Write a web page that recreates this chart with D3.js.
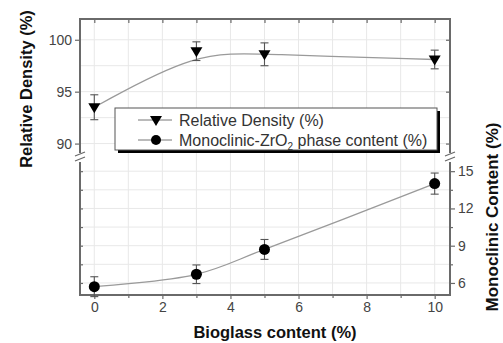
<!DOCTYPE html>
<html>
<head>
<meta charset="utf-8">
<script src="https://cdn.jsdelivr.net/npm/d3@7"></script>
<style>
  html, body { margin: 0; padding: 0; background: #fff; }
  svg { display: block; font-family: "Liberation Sans", Arial, sans-serif; }
</style>
</head>
<body>
<div id="chart"></div>
<script>
// data
const bioglass = [0, 3, 5, 10];
const density = [93.5, 98.9, 98.6, 98.1];
const densityErr = [1.2, 0.9, 1.1, 0.9];
const monoclinic = [5.7, 6.7, 8.7, 14.0];
const monoclinicErr = [0.8, 0.75, 0.8, 0.85];
const xTicks = [0, 2, 4, 6, 8, 10];
const densityTicks = [90, 95, 100];
const monoTicks = [6, 9, 12, 15];
const monoMinor = [7.5, 10.5, 13.5];

const W = 503, H = 343;
const pLeft = 80, pRight = 450, pTop = 19, pBottom = 295;
const breakTop = 155, breakBot = 160;

const svg = d3.select('#chart').append('svg').attr('width', W).attr('height', H);

const x = d3.scaleLinear().domain([-0.42, 10.45]).range([pLeft, pRight]);
const yTop = d3.scaleLinear().domain([88.9, 102]).range([breakTop, pTop]);
const yBot = d3.scaleLinear().domain([5.03, 15.9]).range([pBottom, breakBot]);

const axisColor = '#6a6a6a';
const textColor = '#444';
const gridColor = '#e8e8e8';

// grid
const grid = svg.append('g').attr('stroke', gridColor).attr('stroke-width', 1);
d3.range(0, 11).forEach(v => {
  grid.append('line').attr('x1', x(v)).attr('x2', x(v)).attr('y1', pTop).attr('y2', pBottom);
});
[90, 92.5, 95, 97.5, 100].forEach(v => {
  grid.append('line').attr('x1', pLeft).attr('x2', pRight).attr('y1', yTop(v)).attr('y2', yTop(v));
});
monoTicks.concat(monoMinor).forEach(v => {
  grid.append('line').attr('x1', pLeft).attr('x2', pRight).attr('y1', yBot(v)).attr('y2', yBot(v));
});

// axes
const axisStyle = g => {
  g.select('.domain').remove();
  g.selectAll('line').attr('stroke', axisColor).attr('stroke-width', 1.2);
  g.selectAll('text').attr('fill', textColor).style('font-size', '14px');
};

svg.append('g').attr('transform', `translate(0,${pBottom})`)
  .call(d3.axisBottom(x).tickValues(xTicks).tickSize(4).tickPadding(3))
  .call(axisStyle);
svg.append('g').attr('transform', `translate(0,${pBottom})`)
  .call(d3.axisBottom(x).tickValues([1, 3, 5, 7, 9]).tickSize(3).tickFormat(''))
  .call(axisStyle);
svg.append('g').attr('transform', `translate(0,${pTop})`)
  .call(d3.axisBottom(x).tickValues(d3.range(0, 11)).tickSize(4).tickFormat(''))
  .call(axisStyle);

svg.append('g').attr('transform', `translate(${pLeft},0)`)
  .call(d3.axisLeft(yTop).tickValues(densityTicks).tickSize(5).tickPadding(3))
  .call(axisStyle);
svg.append('g').attr('transform', `translate(${pLeft},0)`)
  .call(d3.axisRight(yBot).tickValues(monoTicks.concat(monoMinor)).tickSize(3).tickFormat(''))
  .call(axisStyle);
svg.append('g').attr('transform', `translate(${pRight},0)`)
  .call(d3.axisLeft(yTop).tickValues(densityTicks).tickSize(4).tickFormat(''))
  .call(axisStyle);
svg.append('g').attr('transform', `translate(${pRight},0)`)
  .call(d3.axisRight(yBot).tickValues(monoTicks).tickSize(5).tickPadding(3))
  .call(axisStyle);
svg.append('g').attr('transform', `translate(${pRight},0)`)
  .call(d3.axisRight(yBot).tickValues(monoMinor).tickSize(3).tickFormat(''))
  .call(axisStyle);

// frame
const frame = svg.append('g').attr('stroke', axisColor).attr('stroke-width', 2).attr('fill', 'none');
frame.append('path').attr('d', `M${pLeft},${breakTop - 2}V${pTop}H${pRight}V${breakTop - 2}`);
frame.append('path').attr('d', `M${pLeft},${breakBot + 2}V${pBottom}H${pRight}V${breakBot + 2}`);

// break marks
const breaks = svg.append('g').attr('stroke', axisColor).attr('stroke-width', 1.2);
[pLeft, pRight].forEach(bx => {
  [breakTop - 1, breakBot - 1].forEach(by => {
    breaks.append('line').attr('x1', bx - 5).attr('y1', by + 2).attr('x2', bx + 5).attr('y2', by - 2);
  });
});

// curves
const densityPts = bioglass.map((d, i) => [d, density[i]]);
const monoPts = bioglass.map((d, i) => [d, monoclinic[i]]);
svg.append('path').datum(densityPts)
  .attr('d', d3.line().x(d => x(d[0])).y(d => yTop(d[1])).curve(d3.curveBasis))
  .attr('fill', 'none').attr('stroke', '#9a9a9a').attr('stroke-width', 1.3);
svg.append('path').datum(monoPts)
  .attr('d', d3.line().x(d => x(d[0])).y(d => yBot(d[1])).curve(d3.curveCatmullRom))
  .attr('fill', 'none').attr('stroke', '#9a9a9a').attr('stroke-width', 1.3);

// error bars
function errorBars(vals, errs, y) {
  const g = svg.append('g').attr('stroke', '#555').attr('stroke-width', 1.1);
  bioglass.forEach((d, i) => {
    const cx = x(d), y1 = y(vals[i] + errs[i]), y2 = y(vals[i] - errs[i]);
    g.append('line').attr('x1', cx).attr('x2', cx).attr('y1', y1).attr('y2', y2);
    g.append('line').attr('x1', cx - 4).attr('x2', cx + 4).attr('y1', y1).attr('y2', y1);
    g.append('line').attr('x1', cx - 4).attr('x2', cx + 4).attr('y1', y2).attr('y2', y2);
  });
}
errorBars(density, densityErr, yTop);
errorBars(monoclinic, monoclinicErr, yBot);

const triangle = (cx, cy) => `M${cx - 6},${cy - 4}L${cx + 6},${cy - 4}L${cx},${cy + 6}Z`;
svg.append('g').selectAll('path').data(densityPts).join('path')
  .attr('d', d => triangle(x(d[0]), yTop(d[1]))).attr('fill', '#000');
svg.append('g').selectAll('circle').data(monoPts).join('circle')
  .attr('cx', d => x(d[0])).attr('cy', d => yBot(d[1])).attr('r', 5.5).attr('fill', '#000');

// legend
const lg = svg.append('g');
lg.append('rect').attr('x', 118).attr('y', 111).attr('width', 322).attr('height', 42).attr('fill', '#000');
lg.append('rect').attr('x', 115).attr('y', 108).attr('width', 322).attr('height', 42)
  .attr('fill', '#fff').attr('stroke', '#555').attr('stroke-width', 1);
[[120, 'tri'], [140, 'dot']].forEach(([ly, m]) => {
  lg.append('line').attr('x1', 138).attr('x2', 172).attr('y1', ly).attr('y2', ly)
    .attr('stroke', '#777').attr('stroke-width', 1);
  if (m === 'tri') lg.append('path').attr('d', triangle(156, ly)).attr('fill', '#000');
  else lg.append('circle').attr('cx', 156).attr('cy', ly).attr('r', 5).attr('fill', '#000');
});
lg.append('text').attr('x', 179).attr('y', 125.5).attr('fill', '#333').style('font-size', '16px')
  .text('Relative Density (%)');
const t2 = lg.append('text').attr('x', 179).attr('y', 145.5).attr('fill', '#333').style('font-size', '16px');
t2.append('tspan').text('Monoclinic-ZrO');
t2.append('tspan').attr('dy', 4).style('font-size', '10px').text('2');
t2.append('tspan').attr('dy', -4).text(' phase content (%)');

// axis titles
svg.append('text').attr('transform', `translate(32,89) rotate(-90)`)
  .attr('text-anchor', 'middle').attr('fill', '#111').style('font-size', '16.5px').style('font-weight', 'bold')
  .text('Relative Density (%)');
svg.append('text').attr('transform', `translate(498,217) rotate(-90)`)
  .attr('text-anchor', 'middle').attr('fill', '#111').style('font-size', '17px').style('font-weight', 'bold')
  .text('Monoclinic Content (%)');
svg.append('text').attr('x', 275).attr('y', 338)
  .attr('text-anchor', 'middle').attr('fill', '#111').style('font-size', '16.5px').style('font-weight', 'bold')
  .text('Bioglass content (%)');
</script>
</body>
</html>
